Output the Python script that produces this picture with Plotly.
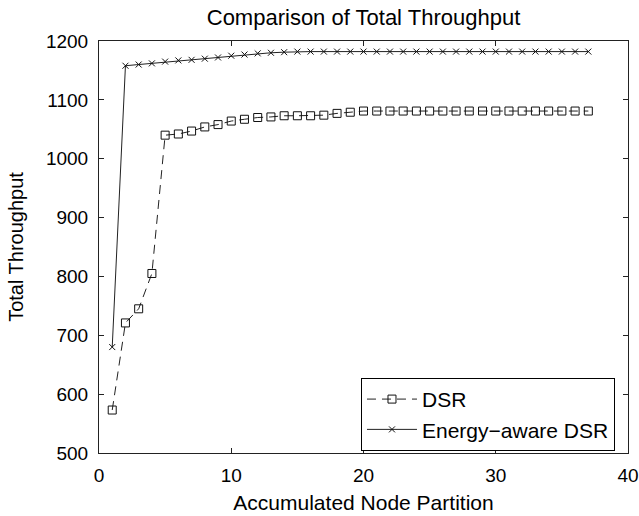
import plotly.graph_objects as go

x_vals = list(range(1, 38))
dsr = [573, 721, 745, 805, 1040, 1042, 1047, 1054, 1058, 1064, 1067, 1070, 1071, 1073,
       1073, 1073, 1074, 1077, 1079, 1081, 1081, 1081, 1081, 1081, 1081, 1081, 1081,
       1081, 1081, 1081, 1081, 1081, 1081, 1081, 1081, 1081, 1081]
energy = [680, 1158, 1160, 1162, 1165, 1167, 1168, 1170, 1172, 1175, 1177, 1179, 1180,
          1181, 1182, 1182, 1182, 1182, 1182, 1182, 1182, 1182, 1182, 1182, 1182, 1182,
          1182, 1182, 1182, 1182, 1182, 1182, 1182, 1182, 1182, 1182, 1182]
x_ticks = [0, 10, 20, 30, 40]
y_ticks = [500, 600, 700, 800, 900, 1000, 1100, 1200]

FONT = "Liberation Sans, Arial, sans-serif"

fig = go.Figure()
fig.add_trace(go.Scatter(
    x=x_vals, y=dsr, name="DSR", mode="lines+markers",
    line=dict(color="#222222", width=1, dash="9px,6px"),
    marker=dict(symbol="square-open", size=8, color="#111111", line=dict(width=1)),
))
fig.add_trace(go.Scatter(
    x=x_vals, y=energy, name="Energy\u2212aware DSR", mode="lines+markers",
    line=dict(color="#222222", width=1),
    marker=dict(symbol="x-thin-open", size=6, color="#111111", line=dict(width=1, color="#111111")),
))

axis_common = dict(
    showgrid=False, zeroline=False, showline=True, linecolor="#222222", linewidth=1,
    mirror="ticks", ticks="inside", ticklen=5, tickcolor="#222222", automargin=False,
    tickfont=dict(family=FONT, size=19, color="#000000"),
)

fig.update_layout(
    width=639, height=516,
    margin=dict(l=99, r=11, t=41, b=63),
    paper_bgcolor="white", plot_bgcolor="white",
    font=dict(family=FONT, color="#000000"),
    title=dict(text="Comparison of Total Throughput", x=0.5, xanchor="center",
               xref="paper", y=0.967, yanchor="middle",
               font=dict(family=FONT, size=22, color="#000000")),
    xaxis=dict(range=[0, 40], tickvals=x_ticks, ticklabelstandoff=5,
               title=dict(text="Accumulated Node Partition", font=dict(family=FONT, size=21), standoff=10),
               **axis_common),
    yaxis=dict(range=[500, 1200], tickvals=y_ticks, ticklabelstandoff=6,
               title=dict(text="Total Throughput", font=dict(family=FONT, size=20), standoff=16),
               **axis_common),
    legend=dict(x=0.9754, y=0.005, xanchor="right", yanchor="bottom",
                bgcolor="white", bordercolor="#000000", borderwidth=1,
                font=dict(family=FONT, size=21, color="#000000"),
                tracegroupgap=0, itemwidth=50),
    showlegend=True,
)

fig.write_html("out.html")
